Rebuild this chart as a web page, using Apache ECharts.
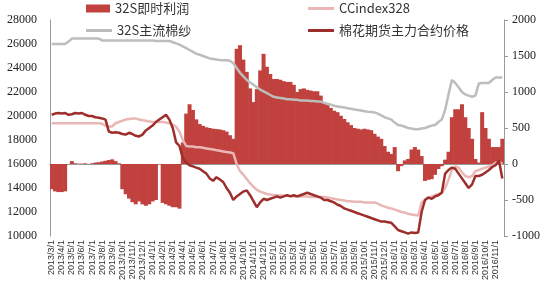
<!DOCTYPE html>
<html><head><meta charset="utf-8">
<script src="https://cdn.jsdelivr.net/npm/echarts@6/dist/echarts.min.js"></script>
<style>html,body{margin:0;padding:0;background:#fff}#c{width:550px;height:300px}</style>
</head><body><div id="c"></div>
<script>
// Months shown on the axis and sampling days within each month
var months = ['2013/3','2013/4','2013/5','2013/6','2013/7','2013/8','2013/9','2013/10','2013/11','2013/12',
'2014/1','2014/2','2014/3','2014/4','2014/5','2014/6','2014/7','2014/8','2014/9','2014/10','2014/11','2014/12',
'2015/1','2015/2','2015/3','2015/4','2015/5','2015/6','2015/7','2015/8','2015/9','2015/10','2015/11','2015/12',
'2016/1','2016/2','2016/3','2016/4','2016/5','2016/6','2016/7','2016/8','2016/9','2016/10','2016/11'];
var days = [1, 11, 21];
var categories = [];
months.forEach(function(m){ days.forEach(function(d){ categories.push(m + '/' + d); }); });

var leftTicks = {min: 10000, max: 28000, interval: 2000};
var rightTicks = {min: -1000, max: 2000, interval: 500};

// 32S即时利润 (right axis)
var profit = [-350,-380,-390,-390,-380,0,40,10,5,5,10,0,10,20,25,35,45,55,65,40,10,
-350,-420,-480,-530,-560,-520,-560,-580,-560,-520,-500,0,-540,-560,-580,-600,-600,-620,
300,700,830,750,620,555,530,510,500,490,485,480,470,450,400,350,
1600,1650,1450,1280,1050,860,1040,1300,1530,1350,1250,1180,1180,1170,1150,1140,1140,1100,1000,1040,1050,1030,1020,1010,1010,950,
860,820,780,740,720,670,625,580,540,500,490,480,490,480,470,420,380,350,250,170,140,235,-100,-30,50,70,200,235,200,110,
-235,-220,-210,-150,-70,-30,60,170,650,760,760,830,650,500,350,70,20,720,500,350,235,235,235,350];

// CCindex328 (left axis)
var ccindex = [19400,19400,19400,19400,19400,19400,19400,19400,19400,19400,19400,19400,19400,19400,19400,
19350,19200,19100,19150,19400,19500,19600,19700,19750,19800,19800,19700,19650,19600,19550,19500,19500,19500,19500,19450,19400,
19300,19100,18700,18000,17500,17450,17450,17400,17400,17350,17300,17250,17200,17150,17100,17050,17000,16950,16900,
16000,15400,15100,14750,14400,14100,13850,13700,13600,13500,13450,13400,13400,13400,13350,13350,13350,13300,13300,13300,13300,13300,
13250,13250,13250,13250,13250,13200,13150,13100,13050,13000,12950,12900,12900,12850,12850,12850,12800,12800,12800,12800,
12700,12550,12450,12350,12300,12200,12100,12000,11950,11850,11800,11750,11700,12800,13000,13200,13300,13400,13500,13600,
14000,14700,15500,15800,15700,15300,15000,14900,15000,15400,15500,15600,15700,15800,15900,16100,16200,16000];

// 32S主流棉纱 (left axis)
var yarn = [26000,26000,26000,26000,26000,26200,26450,26450,26450,26450,26450,26450,26450,26450,26450,
26300,26300,26300,26300,26300,26300,26300,26300,26300,26300,26300,26300,26300,26300,26300,26300,26250,26250,26250,26250,26250,
26150,26050,25950,25800,25650,25500,25350,25200,25100,25000,24900,24800,24750,24700,24670,24650,24650,24600,24400,
24000,23600,23300,23000,22800,22600,22400,22200,22050,21900,21750,21600,21550,21500,21450,21400,21400,21350,21350,21300,21300,21300,
21250,21250,21200,21200,21100,21000,20950,20850,20800,20750,20700,20650,20600,20550,20500,20450,20400,20350,20330,20300,
20200,20050,19900,19800,19700,19450,19250,19200,19100,19000,18950,18900,18900,18950,19000,19100,19200,19250,19500,19700,
20500,21800,23000,22750,22400,22000,21800,21700,21600,21700,22700,22750,22750,22750,23000,23200,23200,23200];

// 棉花期货主力合约价格 (left axis)
var futures = [20100,20200,20250,20200,20250,20100,20150,20250,20200,20250,20100,20000,20000,19900,19850,19800,19700,
18700,18600,18650,18600,18500,18450,18600,18500,18350,18300,18450,18800,19000,19200,19500,19700,19900,20100,
19700,19000,17800,17500,16500,16100,15900,15800,15700,15600,15400,15200,14800,14600,14900,14700,14500,14000,13600,13000,
13300,13500,13700,13800,13400,12900,12400,12800,13100,13000,13100,13200,13300,13200,13300,13400,13300,13400,13300,13400,13500,13600,
13500,13400,13300,13200,13000,13000,12900,12800,12600,12500,12300,12200,12100,12000,11900,11800,11700,11600,11500,11400,
11300,11200,11200,11150,11100,10800,10500,10400,10300,10200,10300,10250,10300,12000,13000,13200,13100,13300,13400,13600,
15200,15500,15700,15600,15200,14800,14400,14000,14300,15000,15000,15100,15300,15500,15750,15900,16300,14800];

var names = ['32S即时利润','CCindex328','32S主流棉纱','棉花期货主力合约价格'];
var colors = {bar:'#C0413D', cc:'#E9B7B5', yarn:'#BDBDBD', fut:'#9E2E2B'};

var chart = echarts.init(document.getElementById('c'), null, {renderer:'canvas'});
var legendText = {fontSize: 13, color: '#333', fontFamily: '"Noto Sans CJK SC", sans-serif'};
function lg(name, left, top, isBar) {
  return {data:[name], left:left, top:top, itemWidth: isBar ? 24 : 26, itemHeight: isBar ? 8 : 3,
    icon:'rect', itemGap: 4, textStyle: legendText, padding: 0, selectedMode: false};
}
function plain(v){ return String(v); }
chart.setOption({
  animation: false,
  color: [colors.bar, colors.cc, colors.yarn, colors.fut],
  legend: [lg(names[0], 86, 2, true), lg(names[1], 308, 2, false), lg(names[2], 86, 24, false), lg(names[3], 308, 24, false)],
  grid: {left: 50, right: 46, top: 20, bottom: 64},
  xAxis: {type:'category', data: categories, boundaryGap: true,
    axisLine:{show:true, lineStyle:{color:'#999', width:1}}, axisTick:{show:false},
    axisLabel:{rotate:90, fontSize:9, color:'#333', margin:4, fontFamily:'"Liberation Sans", sans-serif',
      interval: function(i){ return i % 3 === 0; }}},
  yAxis: [
    {type:'value', min:leftTicks.min, max:leftTicks.max, interval:leftTicks.interval, position:'left',
      splitLine:{show:false}, axisTick:{show:false},
      axisLine:{show:true, lineStyle:{color:'#999'}},
      axisLabel:{fontSize:12, color:'#222', margin:13, fontFamily:'"Liberation Serif", serif', formatter: plain}},
    {type:'value', min:rightTicks.min, max:rightTicks.max, interval:rightTicks.interval, position:'right',
      splitLine:{show:false}, axisTick:{show:true, length:4, inside:false, lineStyle:{color:'#999'}},
      axisLine:{show:true, lineStyle:{color:'#999'}},
      axisLabel:{fontSize:12, color:'#222', margin:8, fontFamily:'"Liberation Serif", serif', formatter: plain}}
  ],
  series: [
    {name:names[0], type:'bar', yAxisIndex:1, data:profit, barWidth:4,
      itemStyle:{color:colors.bar}, z:1},
    {name:names[2], type:'line', yAxisIndex:0, data:yarn, showSymbol:false, lineStyle:{color:colors.yarn, width:2.5}, itemStyle:{color:colors.yarn}, z:2},
    {name:names[1], type:'line', yAxisIndex:0, data:ccindex, showSymbol:false, lineStyle:{color:colors.cc, width:2.5}, itemStyle:{color:colors.cc}, z:3},
    {name:names[3], type:'line', yAxisIndex:0, data:futures, showSymbol:false, lineStyle:{color:colors.fut, width:2.5}, itemStyle:{color:colors.fut}, z:4}
  ]
});
</script></body></html>
